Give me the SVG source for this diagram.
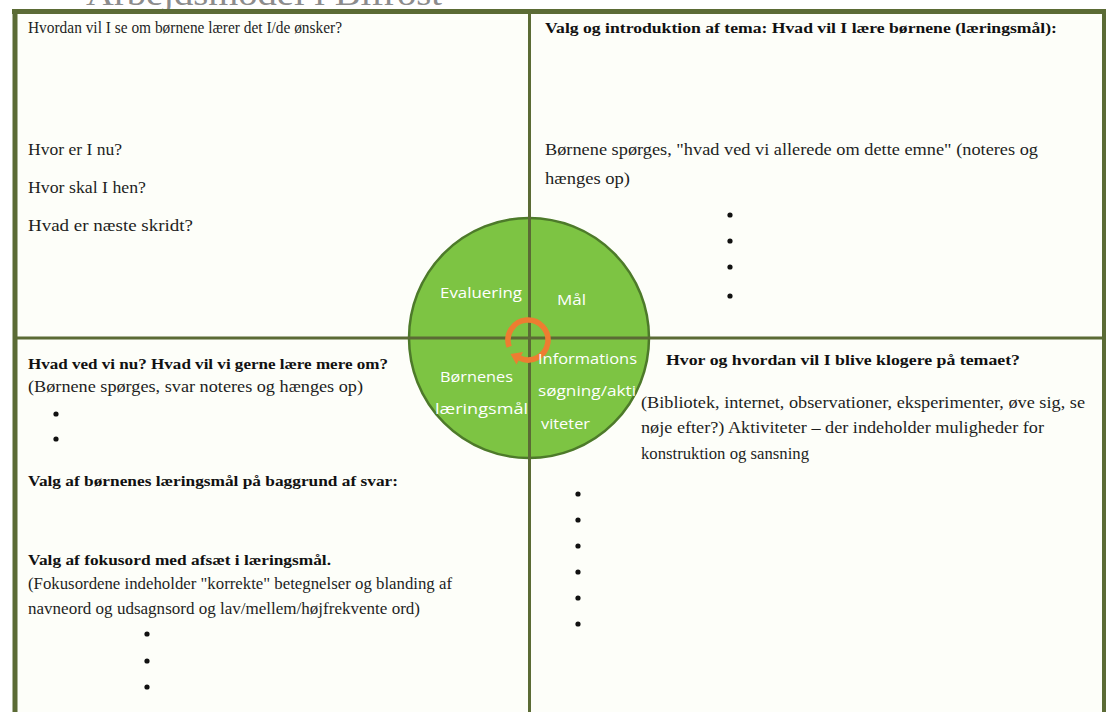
<svg xmlns="http://www.w3.org/2000/svg" width="1108" height="712" viewBox="0 0 1108 712">
  <style>
    .t { font-family: "Liberation Serif", "DejaVu Serif", serif; font-size: 16.5px; fill: #1e1e1e; }
    .b { font-family: "Liberation Serif", "DejaVu Serif", serif; font-size: 15.5px; font-weight: bold; fill: #111111; }
    .c { font-family: "Open Sans", "Liberation Sans", sans-serif; font-size: 14px; fill: #ffffff; }
    .frame { stroke: #5b6b35; fill: none; }
    .dot { fill: #111111; }
  </style>
  <rect x="0" y="0" width="1108" height="712" fill="#ffffff"/>
  <text x="86" y="5" font-family="Liberation Serif, serif" font-size="34" fill="#8c8c8c" textLength="356" lengthAdjust="spacingAndGlyphs">Arbejdsmodel i Bifrost</text>
  <rect x="15" y="11" width="1089" height="710" fill="#fdfef9"/>

  <g id="q-top-left">
    <text class="t" x="28" y="33" font-size="14.5" textLength="314" lengthAdjust="spacingAndGlyphs">Hvordan vil I se om børnene lærer det I/de ønsker?</text>
    <text class="t" x="28" y="155" textLength="94" lengthAdjust="spacingAndGlyphs">Hvor er I nu?</text>
    <text class="t" x="28" y="193" textLength="118" lengthAdjust="spacingAndGlyphs">Hvor skal I hen?</text>
    <text class="t" x="28" y="231" textLength="165" lengthAdjust="spacingAndGlyphs">Hvad er næste skridt?</text>
  </g>

  <g id="q-top-right">
    <text class="b" x="545" y="33" textLength="512" lengthAdjust="spacingAndGlyphs">Valg og introduktion af tema: Hvad vil I lære børnene (læringsmål):</text>
    <text class="t" x="545" y="155" textLength="493" lengthAdjust="spacingAndGlyphs">Børnene spørges, "hvad ved vi allerede om dette emne" (noteres og</text>
    <text class="t" x="545" y="184" textLength="85" lengthAdjust="spacingAndGlyphs">hænges op)</text>
    <circle class="dot" cx="730" cy="215" r="2.6"/>
    <circle class="dot" cx="730" cy="241" r="2.6"/>
    <circle class="dot" cx="730" cy="267" r="2.6"/>
    <circle class="dot" cx="730" cy="296" r="2.6"/>
  </g>

  <g id="q-bottom-left">
    <text class="b" x="28" y="369" textLength="360" lengthAdjust="spacingAndGlyphs">Hvad ved vi nu? Hvad vil vi gerne lære mere om?</text>
    <text class="t" x="28" y="392" textLength="335" lengthAdjust="spacingAndGlyphs">(Børnene spørges, svar noteres og hænges op)</text>
    <circle class="dot" cx="56" cy="414" r="2.6"/>
    <circle class="dot" cx="56" cy="439" r="2.6"/>
    <text class="b" x="28" y="486" textLength="370" lengthAdjust="spacingAndGlyphs">Valg af børnenes læringsmål på baggrund af svar:</text>
    <text class="b" x="28" y="565" textLength="303" lengthAdjust="spacingAndGlyphs">Valg af fokusord med afsæt i læringsmål.</text>
    <text class="t" x="28" y="589" font-size="15.5" textLength="424" lengthAdjust="spacingAndGlyphs">(Fokusordene indeholder "korrekte" betegnelser og blanding af</text>
    <text class="t" x="28" y="614" font-size="15.5" textLength="392" lengthAdjust="spacingAndGlyphs">navneord og udsagnsord og lav/mellem/højfrekvente ord)</text>
    <circle class="dot" cx="147" cy="634" r="2.6"/>
    <circle class="dot" cx="147" cy="661" r="2.6"/>
    <circle class="dot" cx="147" cy="687" r="2.6"/>
  </g>

  <g id="q-bottom-right">
    <text class="b" x="666" y="365" textLength="354" lengthAdjust="spacingAndGlyphs">Hvor og hvordan vil I blive klogere på temaet?</text>
    <text class="t" x="641" y="408" font-size="16" textLength="444" lengthAdjust="spacingAndGlyphs">(Bibliotek, internet, observationer, eksperimenter, øve sig, se</text>
    <text class="t" x="641" y="433" font-size="16" textLength="403" lengthAdjust="spacingAndGlyphs">nøje efter?) Aktiviteter – der indeholder muligheder for</text>
    <text class="t" x="641" y="459" font-size="16" textLength="168" lengthAdjust="spacingAndGlyphs">konstruktion og sansning</text>
    <circle class="dot" cx="578" cy="494" r="2.6"/>
    <circle class="dot" cx="578" cy="520" r="2.6"/>
    <circle class="dot" cx="578" cy="546" r="2.6"/>
    <circle class="dot" cx="578" cy="572" r="2.6"/>
    <circle class="dot" cx="578" cy="598" r="2.6"/>
    <circle class="dot" cx="578" cy="624" r="2.6"/>
  </g>

  <g id="cycle">
    <circle cx="529" cy="338" r="120" fill="#7dc443" stroke="#4d7a2a" stroke-width="2.5"/>
  </g>

  <g id="connectors">
    <line class="frame" x1="12" y1="11.5" x2="1106" y2="11.5" stroke-width="5"/>
    <line class="frame" x1="15" y1="9" x2="15" y2="712" stroke-width="5"/>
    <line class="frame" x1="1104" y1="9" x2="1104" y2="712" stroke-width="4"/>
    <line class="frame" x1="529.5" y1="12" x2="529.5" y2="712" stroke-width="3"/>
    <line class="frame" x1="15" y1="338" x2="1104" y2="338" stroke-width="3"/>
  </g>

  <g id="cycle-arrow">
    <path d="M 509.2 346.8 A 20 20 0 1 1 519.5 358.1" fill="none" stroke="#ed7d31" stroke-width="5.5"/>
    <polygon points="510.5,354 516.5,364.5 523,352" fill="#ed7d31"/>
  </g>

  <g id="cycle-labels">
    <text class="c" x="440" y="298" textLength="82" lengthAdjust="spacingAndGlyphs">Evaluering</text>
    <text class="c" x="557" y="305" textLength="29" lengthAdjust="spacingAndGlyphs">Mål</text>
    <text class="c" x="440" y="382" textLength="73" lengthAdjust="spacingAndGlyphs">Børnenes</text>
    <text class="c" x="435" y="414" textLength="93" lengthAdjust="spacingAndGlyphs">læringsmål</text>
    <text class="c" x="538" y="364" textLength="99" lengthAdjust="spacingAndGlyphs">Informations</text>
    <text class="c" x="538" y="396" textLength="98" lengthAdjust="spacingAndGlyphs">søgning/akti</text>
    <text class="c" x="541" y="429" textLength="49" lengthAdjust="spacingAndGlyphs">viteter</text>
  </g>
</svg>
